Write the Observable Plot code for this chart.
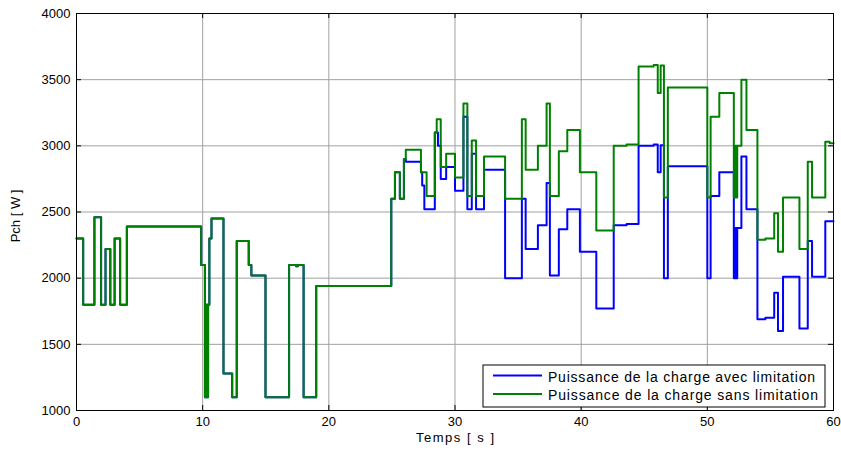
<!DOCTYPE html>
<html><head><meta charset="utf-8">
<script src="https://cdn.jsdelivr.net/npm/d3@7"></script>
<script src="https://cdn.jsdelivr.net/npm/@observablehq/plot@0.6"></script>
<style>
body{margin:0;background:#fff;}
#chart{width:841px;height:450px;}
</style></head><body><div id="chart"></div>
<script>
// Step breakpoints (s)
const temps = [0,0.53,1.42,1.95,2.3,2.68,3.02,3.46,3.99,9.88,10.18,10.23,10.28,10.33,10.38,10.43,10.53,10.7,11.65,12.34,12.7,13.65,13.86,14.98,16.85,17.4,17.55,18.0,19.0,24.95,25.24,25.63,25.95,26.1,27.3,27.4,27.57,27.75,28.4,28.55,28.65,28.87,29.3,30.0,30.67,30.98,31.33,31.67,32.3,33.97,35.3,35.6,36.57,37.26,37.52,38.23,38.9,39.9,41.2,42.58,43.6,44.55,45.75,46.07,46.3,46.56,46.87,50.0,50.26,50.95,52.1,52.15,52.2,52.25,52.3,52.37,52.7,53.1,53.97,54.6,55.3,55.6,56.0,57.3,57.96,58.3,59.35,59.7,60];
// Puissance de la charge avec limitation (W)
const pAvec = [2300,1800,2460,1800,2220,1800,2300,1800,2390,2100,1100,1800,1100,1800,1100,1800,2300,2450,1280,1100,2280,2100,2020,1100,2100,2090,2100,1100,1940,2600,2800,2600,2900,2880,2800,2700,2520,2520,3100,3100,3000,2750,2840,2660,3220,2520,2940,2520,2820,2000,2600,2220,2400,2720,2020,2370,2520,2200,1770,2400,2410,3000,3010,2800,3005,2000,2845,2000,2620,2800,2000,2380,2000,2380,2000,2380,2920,2520,1690,1700,1890,1600,2010,1620,2280,2010,2430,2430,2430];
// Puissance de la charge sans limitation (W)
const pSans = [2300,1800,2460,1800,2220,1800,2300,1800,2390,2100,1100,1800,1100,1800,1100,1800,2300,2450,1280,1100,2280,2100,2020,1100,2100,2090,2100,1100,1940,2600,2800,2600,2900,2970,2800,2800,2800,2620,3100,3200,3200,2840,2940,2760,3320,2620,3040,2620,2920,2600,3200,2820,3000,3320,2620,2960,3120,2800,2360,3000,3010,3600,3610,3400,3607,2610,3440,2610,3220,3400,2610,3000,2610,3000,2610,3000,3500,3120,2290,2300,2490,2200,2610,2220,2880,2610,3030,3020,3020];

const xTicks = [0,10,20,30,40,50,60];
const yTicks = [1000,1500,2000,2500,3000,3500,4000];
const seriesNames = ["Puissance de la charge avec limitation","Puissance de la charge sans limitation"];
const seriesColors = ["#0000ff","#008000"];
const xLabel = "Temps [ s ]";
const yLabel = "Pch [ W ]";

const avec = temps.map((t,i)=>({t, p:pAvec[i]}));
const sans = temps.map((t,i)=>({t, p:pSans[i]}));

const W=841,H=450,mL=76,mR=8,mT=13,mB=40;
const fw=W-mL-mR, fh=H-mT-mB;
const font = "'Liberation Sans', Arial, Helvetica, sans-serif";

const chart = Plot.plot({
  width:W, height:H, marginLeft:mL, marginRight:mR, marginTop:mT, marginBottom:mB,
  style:{fontFamily:font, fontSize:"13px", background:"#fff", color:"#000", overflow:"visible"},
  x:{domain:[0,60]},
  y:{domain:[1000,4000]},
  marks:[
    Plot.gridX(xTicks,{stroke:"#a0a0a0", strokeOpacity:1}),
    Plot.gridY(yTicks,{stroke:"#a0a0a0", strokeOpacity:1}),
    Plot.line(avec,{x:"t", y:"p", curve:"step-after", stroke:seriesColors[0], strokeWidth:2}),
    Plot.line(sans,{x:"t", y:"p", curve:"step-after", stroke:seriesColors[1], strokeWidth:2}),
    Plot.tickX(xTicks,{x:d=>d, insetTop:fh-5, stroke:"#000"}),
    Plot.tickX(xTicks,{x:d=>d, insetBottom:fh-5, stroke:"#000"}),
    Plot.tickY(yTicks,{y:d=>d, insetRight:fw-5, stroke:"#000"}),
    Plot.tickY(yTicks,{y:d=>d, insetLeft:fw-5, stroke:"#000"}),
    Plot.frame({stroke:"#000"}),
    Plot.axisX(xTicks,{tickSize:0, tickPadding:6, label:null, fontSize:13, tickFormat:d=>String(d)}),
    Plot.axisY(yTicks,{tickSize:0, tickPadding:6, label:null, fontSize:13, tickFormat:d=>String(d)}),
    Plot.text([xLabel],{text:d=>d, frameAnchor:"bottom", dy:31, fontSize:13, textAnchor:"middle"}),
    Plot.text([yLabel],{text:d=>d, frameAnchor:"left", dx:-61, dy:4, rotate:-90, fontSize:13, textAnchor:"middle"})
  ]
});
document.getElementById("chart").appendChild(chart);

const svg = d3.select(chart);
// widen the x-axis title to the reference's proportions
svg.selectAll("text").filter(function(){ return this.textContent === xLabel; })
  .attr("textLength",78).attr("lengthAdjust","spacing");

// Legend box inside the plot (bottom-right)
const lg = svg.append("g").attr("transform",`translate(${mL+407},${mT+352})`);
lg.append("rect").attr("width",342).attr("height",42).attr("fill","#fff").attr("stroke","#000");
seriesNames.forEach((name,i)=>{
  const y = 10.5 + i*18.5;
  lg.append("line").attr("x1",10).attr("x2",59).attr("y1",y).attr("y2",y)
    .attr("stroke",seriesColors[i]).attr("stroke-width",2);
  lg.append("text").attr("x",65).attr("y",y+6).attr("text-anchor","start")
    .attr("font-family",font).attr("font-size",14).attr("fill","#000")
    .attr("textLength", i === 0 ? 267 : 270).attr("lengthAdjust","spacing")
    .text(name);
});
</script></body></html>
